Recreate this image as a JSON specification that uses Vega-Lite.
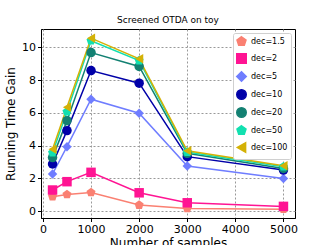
{
  "$schema": "https://vega.github.io/schema/vega-lite/v6.json",
  "width": 254,
  "height": 189,
  "autosize": "none",
  "padding": {"left": 41, "top": 29, "right": 32, "bottom": 27},
  "background": "white",
  "title": {"text": "Screened OTDA on toy", "font": "DejaVu Sans", "fontSize": 9, "fontWeight": "normal", "offset": 4, "color": "black"},
  "config": {
    "view": {"stroke": "black", "strokeWidth": 1},
    "font": "DejaVu Sans",
    "axis": {
      "domainColor": "black", "tickColor": "black", "labelColor": "black", "titleColor": "black",
      "labelFont": "DejaVu Sans", "titleFont": "DejaVu Sans", "labelFontSize": 11, "titleFontSize": 12,
      "titleFontWeight": "normal", "grid": true, "gridColor": "#999999", "gridDash": [2, 2], "gridWidth": 1, "gridOpacity": 1, "tickSize": 3.5
    }
  },
  "data": {"values": [
    {"n": 200, "gain": 0.88, "dec": "dec=1.5"},
    {"n": 500, "gain": 1.02, "dec": "dec=1.5"},
    {"n": 1000, "gain": 1.14, "dec": "dec=1.5"},
    {"n": 2000, "gain": 0.37, "dec": "dec=1.5"},
    {"n": 3000, "gain": 0.16, "dec": "dec=1.5"},
    {"n": 5000, "gain": 0.12, "dec": "dec=1.5"},
    {"n": 200, "gain": 1.29, "dec": "dec=2"},
    {"n": 500, "gain": 1.8, "dec": "dec=2"},
    {"n": 1000, "gain": 2.37, "dec": "dec=2"},
    {"n": 2000, "gain": 1.12, "dec": "dec=2"},
    {"n": 3000, "gain": 0.51, "dec": "dec=2"},
    {"n": 5000, "gain": 0.29, "dec": "dec=2"},
    {"n": 200, "gain": 2.27, "dec": "dec=5"},
    {"n": 500, "gain": 3.94, "dec": "dec=5"},
    {"n": 1000, "gain": 6.84, "dec": "dec=5"},
    {"n": 2000, "gain": 5.98, "dec": "dec=5"},
    {"n": 3000, "gain": 2.76, "dec": "dec=5"},
    {"n": 5000, "gain": 2.0, "dec": "dec=5"},
    {"n": 200, "gain": 2.88, "dec": "dec=10"},
    {"n": 500, "gain": 4.92, "dec": "dec=10"},
    {"n": 1000, "gain": 8.59, "dec": "dec=10"},
    {"n": 2000, "gain": 7.82, "dec": "dec=10"},
    {"n": 3000, "gain": 3.33, "dec": "dec=10"},
    {"n": 5000, "gain": 2.51, "dec": "dec=10"},
    {"n": 200, "gain": 3.27, "dec": "dec=20"},
    {"n": 500, "gain": 5.53, "dec": "dec=20"},
    {"n": 1000, "gain": 9.69, "dec": "dec=20"},
    {"n": 2000, "gain": 8.84, "dec": "dec=20"},
    {"n": 3000, "gain": 3.53, "dec": "dec=20"},
    {"n": 5000, "gain": 2.61, "dec": "dec=20"},
    {"n": 200, "gain": 3.57, "dec": "dec=50"},
    {"n": 500, "gain": 6.08, "dec": "dec=50"},
    {"n": 1000, "gain": 10.41, "dec": "dec=50"},
    {"n": 2000, "gain": 9.2, "dec": "dec=50"},
    {"n": 3000, "gain": 3.61, "dec": "dec=50"},
    {"n": 5000, "gain": 2.71, "dec": "dec=50"},
    {"n": 200, "gain": 3.78, "dec": "dec=100"},
    {"n": 500, "gain": 6.35, "dec": "dec=100"},
    {"n": 1000, "gain": 10.57, "dec": "dec=100"},
    {"n": 2000, "gain": 9.31, "dec": "dec=100"},
    {"n": 3000, "gain": 3.69, "dec": "dec=100"},
    {"n": 5000, "gain": 2.78, "dec": "dec=100"}
  ]},
  "encoding": {
    "x": {"field": "n", "type": "quantitative", "title": "Number of samples",
      "scale": {"domain": [-40, 5240], "nice": false, "zero": false},
      "axis": {"values": [0, 1000, 2000, 3000, 4000, 5000], "format": "d", "grid": true, "titlePadding": 3, "labelPadding": 2}},
    "y": {"field": "gain", "type": "quantitative", "title": "Running Time Gain",
      "scale": {"domain": [-0.42, 11.13], "nice": false, "zero": false},
      "axis": {"values": [0, 2, 4, 6, 8, 10], "grid": true, "titlePadding": 4, "labelPadding": 2}},
    "color": {"field": "dec", "type": "nominal", "title": null,
      "scale": {"domain": ["dec=1.5", "dec=2", "dec=5", "dec=10", "dec=20", "dec=50", "dec=100"],
        "range": ["#fa8072", "#ff1493", "#6f7dff", "#0000a8", "#138072", "#12e0b0", "#d4b106"]},
      "legend": {"orient": "top-right", "offset": 4, "labelFontSize": 8, "labelFont": "DejaVu Sans", "labelColor": "black",
        "symbolSize": 90, "rowPadding": 1, "padding": 3, "strokeColor": "#d0d0d0", "fillColor": "white", "cornerRadius": 2,
        "symbolOpacity": 1, "labelOffset": 4}}
  },
  "layer": [
    {"mark": {"type": "line", "strokeWidth": 1.5}, "encoding": {"detail": {"field": "dec"}}},
    {"mark": {"type": "point", "filled": true, "size": 90, "opacity": 1},
      "encoding": {"shape": {"field": "dec", "type": "nominal", "title": null,
        "scale": {"domain": ["dec=1.5", "dec=2", "dec=5", "dec=10", "dec=20", "dec=50", "dec=100"],
          "range": ["M0,-1L0.951,-0.309L0.588,0.809L-0.588,0.809L-0.951,-0.309Z", "square", "diamond", "circle", "circle", "M0,-1L0.951,-0.309L0.588,0.809L-0.588,0.809L-0.951,-0.309Z", "triangle-left"]}}}}
  ]
}
